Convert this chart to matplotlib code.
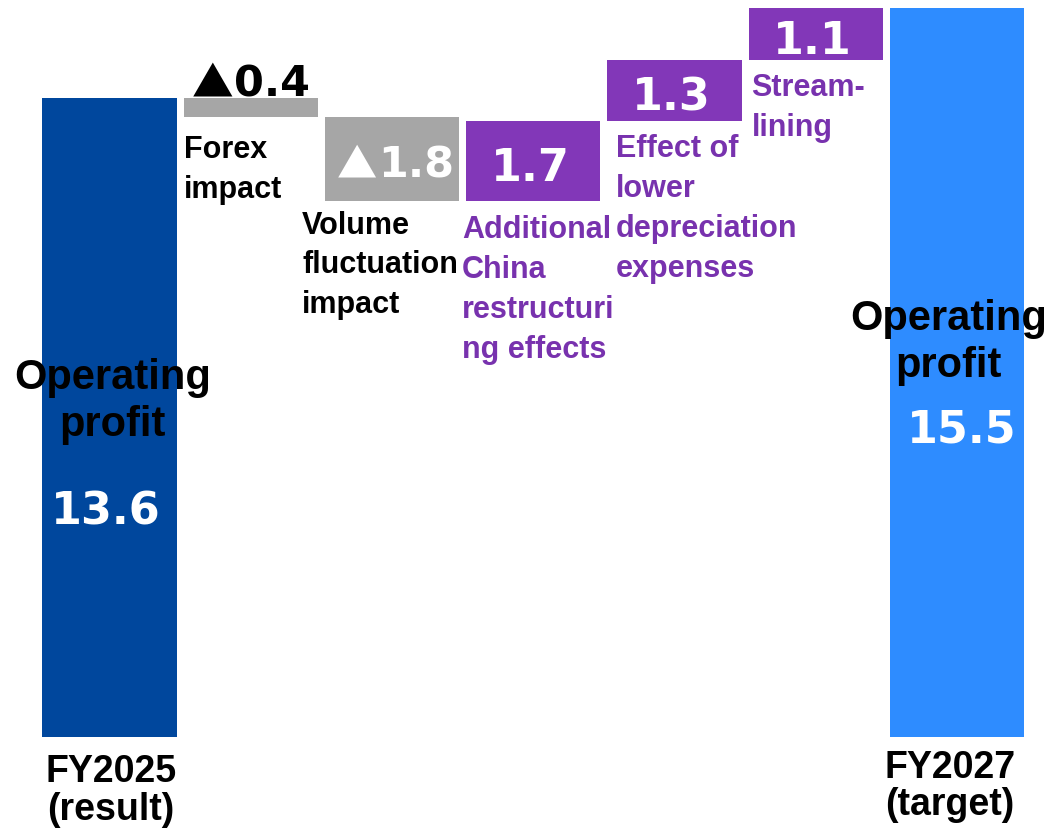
import matplotlib
matplotlib.use("Agg")
import matplotlib.pyplot as plt

# waterfall data (units as on the slide)
steps = ["FY2025", "Forex", "Volume", "China", "Depreciation", "Streamlining", "FY2027"]
deltas = [13.6, -0.4, -1.8, 1.7, 1.3, 1.1]
total_2027 = 15.5
value_labels = ["13.6", "0.4", "1.8", "1.7", "1.3", "1.1", "15.5"]
step_labels = ["Forex\nimpact",
               "Volume\nfluctuation\nimpact",
               "Additional\nChina\nrestructuri\nng effects",
               "Effect of\nlower\ndepreciation\nexpenses",
               "Stream-\nlining"]

dark_blue = "#00479D"
light_blue = "#2E8CFF"
grey = "#A6A6A6"
purple = "#8237B8"
purple_txt = "#7832AE"

LBL = ["Liberation Sans", "DejaVu Sans"]
NUM = ["DejaVu Sans"]
TRI = ["Noto Sans CJK JP", "DejaVu Sans"]

# bottoms/heights for the floating bars
bottoms, heights, colors = [], [], []
run = 0
for i, d in enumerate(deltas):
    if i == 0:
        bottoms.append(0); heights.append(d); colors.append(dark_blue)
    else:
        bottoms.append(min(run, run + d)); heights.append(abs(d))
        colors.append(grey if d < 0 else purple)
    run += d
bottoms.append(0); heights.append(total_2027); colors.append(light_blue)

fig = plt.figure(figsize=(10.51, 8.3), dpi=100)
ax = fig.add_axes([0, 0, 1, 1])
x = list(range(len(steps)))
w = 0.95
ax.bar(x, heights, bottom=bottoms, width=w, color=colors, linewidth=0)
ax.set_xlim(-0.775, 6.666)
ax.set_ylim(-1.98, 15.68)
ax.axis("off")

# totals
ax.text(-0.025, 4.53, value_labels[0], ha="center", va="baseline", color="white",
        fontsize=32, fontweight="bold", family=NUM)
ax.text(6.035, 6.26, value_labels[6], ha="center", va="baseline", color="white",
        fontsize=32, fontweight="bold", family=NUM)

# negative steps: "▲" prefix marks a decrease
ax.text(0.88, heights[0] + 0.02, "▲", ha="right", va="baseline", color="black",
        fontsize=30, fontweight="bold", family=TRI)
ax.text(0.88, heights[0] + 0.02, value_labels[1], ha="left", va="baseline", color="black",
        fontsize=31, fontweight="bold", family=NUM)
mid2 = bottoms[2] + heights[2] / 2
ax.text(1.895, mid2 - 0.39, "▲", ha="right", va="baseline", color="white",
        fontsize=29, fontweight="bold", family=TRI)
ax.text(1.905, mid2 - 0.39, value_labels[2], ha="left", va="baseline", color="white",
        fontsize=31, fontweight="bold", family=NUM)

# positive steps
for i in range(3, 6):
    ax.text(i - 0.02, bottoms[i] + heights[i] / 2 - 0.42, value_labels[i], ha="center",
            va="baseline", color="white", fontsize=32, fontweight="bold", family=NUM)

# step descriptions under each floating bar
offs = [(0.0, -0.4), (-0.16, -0.2), (-0.03, -0.3), (0.06, -0.28), (0.02, -0.27)]
for j, txt in enumerate(step_labels):
    i = j + 1
    dx, dy = offs[j]
    c = "black" if deltas[i] < 0 else purple_txt
    ax.text(i - w / 2 + dx, bottoms[i] + dy, txt, ha="left", va="top", color=c,
            fontsize=22, fontweight="bold", family=LBL, linespacing=1.43)

# bar titles
ax.text(0.02, 7.13, "Operating\nprofit", ha="center", va="center", color="black",
        fontsize=30, fontweight="bold", family=LBL, linespacing=1.22)
ax.text(5.94, 8.4, "Operating\nprofit", ha="center", va="center", color="black",
        fontsize=30, fontweight="bold", family=LBL, linespacing=1.22)
ax.text(0.01, -1.15, "FY2025\n(result)", ha="center", va="center", color="black",
        fontsize=27, fontweight="bold", family=LBL, linespacing=1.05)
ax.text(5.95, -1.05, "FY2027\n(target)", ha="center", va="center", color="black",
        fontsize=27, fontweight="bold", family=LBL, linespacing=1.05)

fig.savefig("out.png", dpi=100)
